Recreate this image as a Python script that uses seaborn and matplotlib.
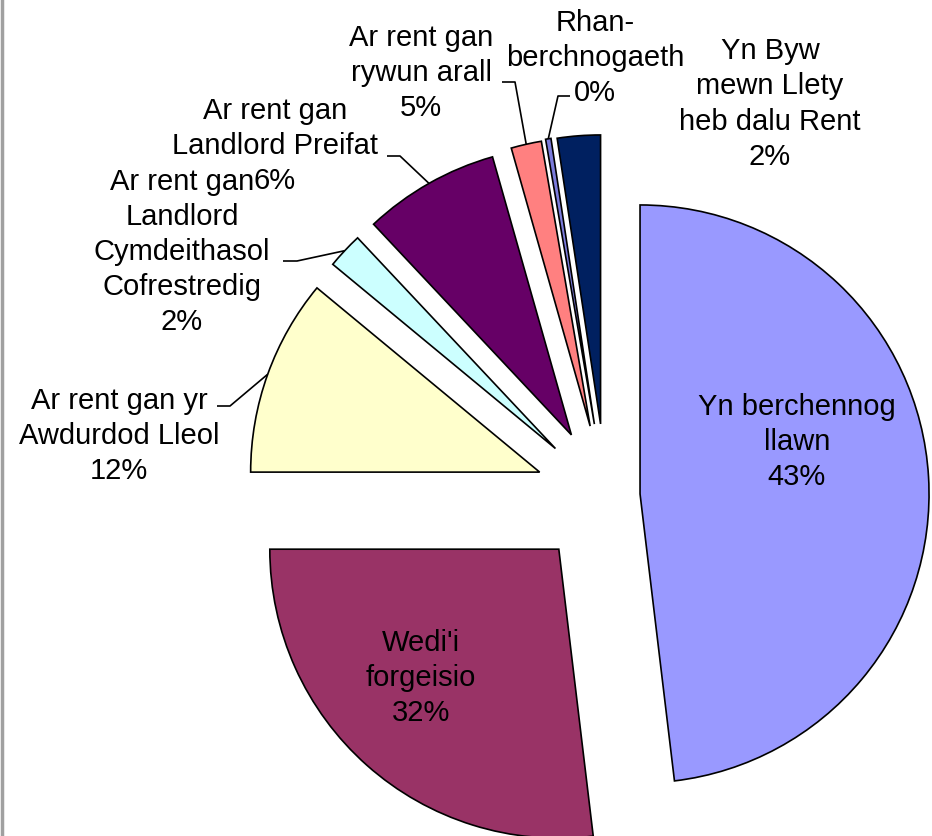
import math
import matplotlib
matplotlib.use("Agg")
import matplotlib.pyplot as plt
import seaborn as sns

# Tenure categories, clockwise from 12 o'clock
categories = [
    "Yn berchennog llawn",
    "Wedi'i forgeisio",
    "Ar rent gan yr Awdurdod Lleol",
    "Ar rent gan Landlord Cymdeithasol Cofrestredig",
    "Ar rent gan Landlord Preifat",
    "Ar rent gan rywun arall",
    "Rhan-berchnogaeth",
    "Yn Byw mewn Llety heb dalu Rent",
]
# slice sizes as drawn in the picture (%)
shares = [48.1, 26.9, 11.0, 2.0, 7.6, 1.7, 0.3, 2.4]
# percentages printed on the labels
pct_labels = ["43%", "32%", "12%", "2%", "6%", "5%", "0%", "2%"]
# label line breaks as in the original
label_names = [
    "Yn berchennog\nllawn",
    "Wedi'i\nforgeisio",
    "Ar rent gan yr\nAwdurdod Lleol",
    "Ar rent gan\nLandlord\nCymdeithasol\nCofrestredig",
    "Ar rent gan\nLandlord Preifat",
    "Ar rent gan\nrywun arall",
    "Rhan-\nberchnogaeth",
    "Yn Byw\nmewn Llety\nheb dalu Rent",
]
hex_colors = ["#9999FF", "#993366", "#FFFFCC", "#CCFFFF",
              "#660066", "#FF8080", "#7B7BDB", "#002060"]

sns.set_theme(style="white")
plt.rcParams['font.family'] = ['Liberation Sans', 'DejaVu Sans']

W, H = 932, 837
fig = plt.figure(figsize=(W / 100, H / 100), dpi=100)
ax = fig.add_axes([0, 0, 1, 1])

palette = sns.color_palette(hex_colors)
R = 289
# explode as fraction of radius (pie offsets in data units, so scale by R)
explode_frac = [0.118, 0.246, 0.244, 0.24, 0.243, 0.248, 0.252, 0.25]
explode = [e * R for e in explode_frac]

wedges, _ = ax.pie(
    shares,
    colors=palette,
    explode=explode,
    startangle=90,
    counterclock=False,
    radius=R,
    center=(606, H - 497),
    wedgeprops={'edgecolor': 'black', 'linewidth': 1.2},
)
ax.set_xlim(0, W)
ax.set_ylim(0, H)
ax.set_aspect('equal')
ax.axis('off')

# label placement (image pixel coords, y from top)
label_pos = [(797, 442), (421, 678), (119, 436), (182, 252),
             (275, 146), (421, 73), (595, 58), (770, 104)]
# leader start and elbow for outside labels
leaders = {
    2: [(217, 407), (230, 407)],
    3: [(283, 262), (297, 262)],
    4: [(387, 157), (400, 157)],
    5: [(502, 83), (515, 83)],
    6: [(570, 97), (558, 97)],
}

for i, (name, pct) in enumerate(zip(label_names, pct_labels)):
    x, y = label_pos[i]
    ax.text(x, H - y, f"{name}\n{pct}", ha='center', va='center',
            multialignment='center', fontsize=21, linespacing=1.32,
            color='black')

for i, pts in leaders.items():
    w = wedges[i]
    a = math.radians((w.theta1 + w.theta2) / 2)
    tip = (w.center[0] + w.r * math.cos(a), w.center[1] + w.r * math.sin(a))
    xs = [p[0] for p in pts] + [tip[0]]
    ys = [H - p[1] for p in pts] + [tip[1]]
    ax.plot(xs, ys, color='black', lw=1.2, solid_capstyle='butt')

# grey frame edge at the left
ax.axvline(1.5, color='#a0a0a0', lw=2.5)

fig.savefig("out.png", dpi=100, facecolor='white')
plt.close(fig)
